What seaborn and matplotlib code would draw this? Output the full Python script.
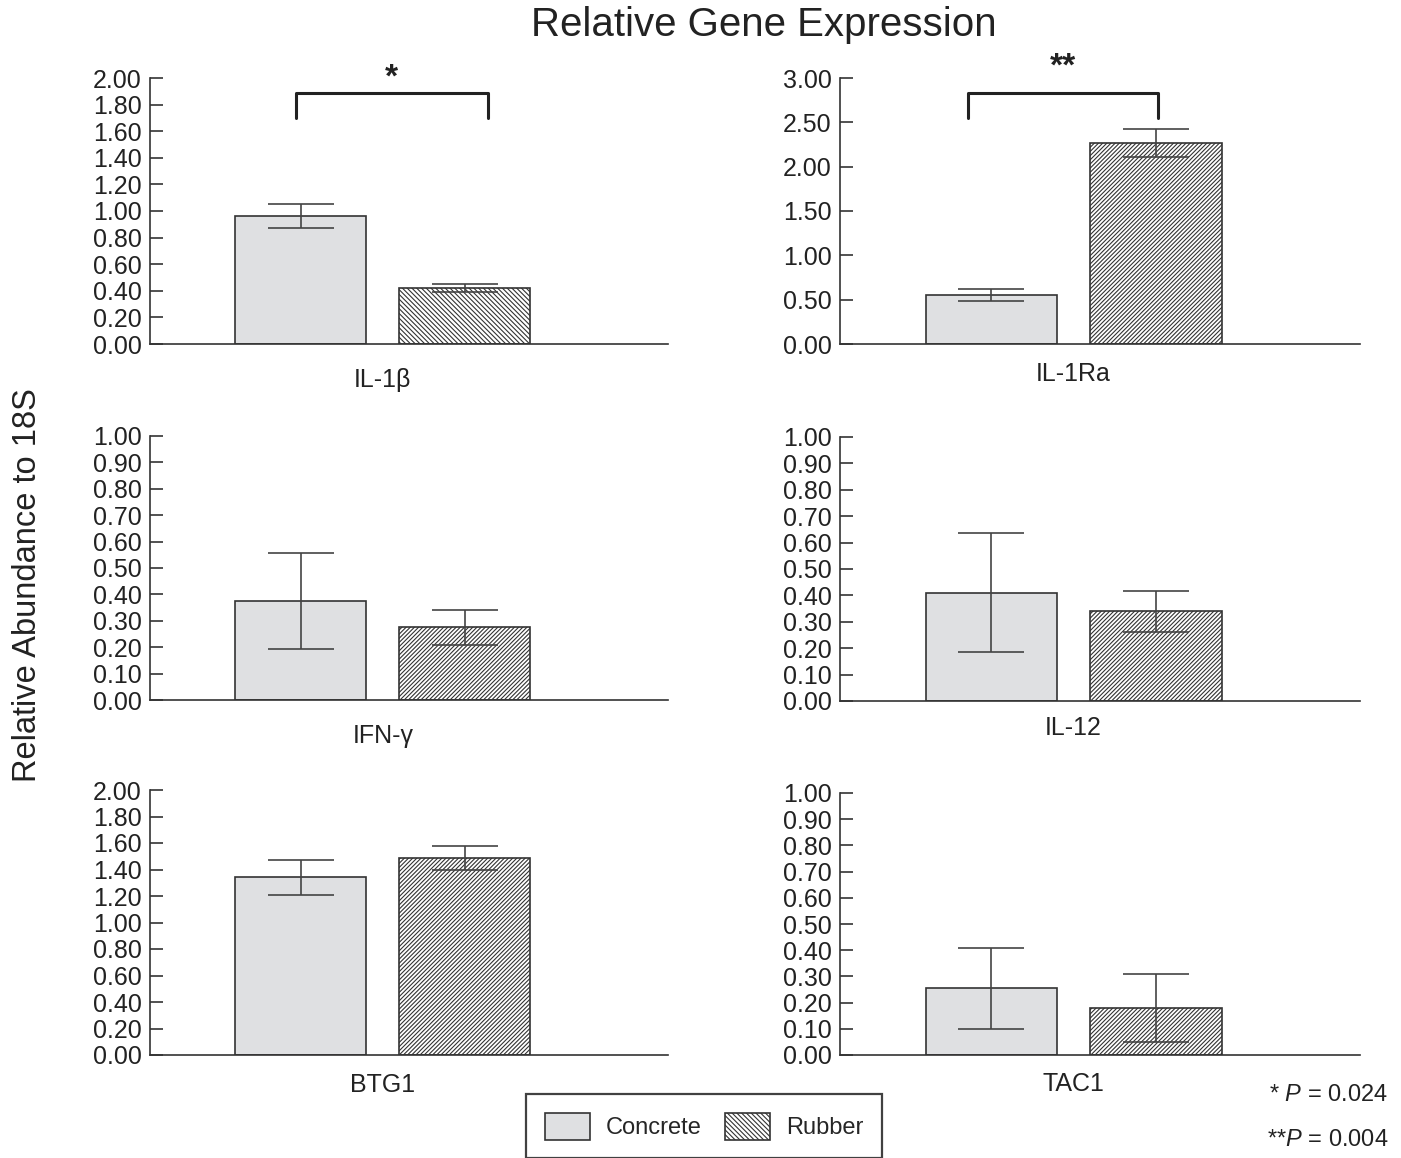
import seaborn as sns
import matplotlib.pyplot as plt
from matplotlib.patches import Patch
import pandas as pd
import numpy as np

sns.set_style("ticks")
plt.rcParams['font.family'] = ['Liberation Sans', 'DejaVu Sans']
plt.rcParams['mathtext.fontset'] = 'custom'
plt.rcParams['mathtext.it'] = 'Liberation Sans:italic'
plt.rcParams['mathtext.rm'] = 'Liberation Sans'
plt.rcParams['hatch.linewidth'] = 0.8

genes = ["IL-1β", "IL-1Ra", "IFN-γ", "IL-12", "BTG1", "TAC1"]
groups = ["Concrete", "Rubber"]
concrete_mean = [0.96, 0.55, 0.375, 0.41, 1.34, 0.255]
concrete_err = [0.09, 0.065, 0.18, 0.225, 0.135, 0.155]
rubber_mean = [0.42, 2.27, 0.275, 0.34, 1.49, 0.18]
rubber_err = [0.03, 0.16, 0.065, 0.078, 0.09, 0.13]
y_max = [2.0, 3.0, 1.0, 1.0, 2.0, 1.0]
y_step = [0.2, 0.5, 0.1, 0.1, 0.2, 0.1]
back = "\\" * 7
fwd = "/" * 8
rubber_hatch = [back, fwd, fwd, fwd, fwd, fwd]

# significance brackets: (stars, bracket height, leg bottom, star height)
sig = {0: ("*", 1.89, 1.70, 2.0), 1: ("**", 2.83, 2.55, 3.12)}

rows = []
for i, g in enumerate(genes):
    rows.append({"gene": g, "group": "Concrete", "value": concrete_mean[i], "err": concrete_err[i]})
    rows.append({"gene": g, "group": "Rubber", "value": rubber_mean[i], "err": rubber_err[i]})
df = pd.DataFrame(rows)

W, H = 1401, 1158
fig = plt.figure(figsize=(W / 100, H / 100), dpi=100)

# axes boxes in pixels: left, top, right, bottom
boxes = [(150, 78, 668, 344), (840, 78, 1360, 344),
         (150, 436, 668, 700), (840, 437, 1360, 701),
         (150, 790, 668, 1055), (840, 793, 1360, 1055)]
label_pad = [17, 13, 17, 11, 13, 12]

dark = "#333333"
fill = "#dfe0e2"

for i, g in enumerate(genes):
    l, t, r, b = boxes[i]
    ax = fig.add_axes([l / W, 1 - b / H, (r - l) / W, (b - t) / H])
    sub = df[df.gene == g]
    sns.barplot(data=sub, x="group", y="value", hue="group", order=groups,
                hue_order=groups, palette={"Concrete": fill, "Rubber": "white"},
                edgecolor=dark, linewidth=1.2, width=0.8, legend=False,
                errorbar=None, ax=ax)
    for p, h in zip(ax.patches, ["", rubber_hatch[i]]):
        p.set_hatch(h)
    ax.errorbar([0, 1], sub["value"], yerr=sub["err"], fmt="none",
                ecolor="#444444", elinewidth=1.2, capsize=24, capthick=1.2)
    ax.set_xlim(-0.92, 2.24)
    ax.set_ylim(0, y_max[i])
    ticks = np.arange(0, y_max[i] + 1e-9, y_step[i])
    ax.set_yticks(ticks)
    ax.set_yticklabels([f"{v:.2f}" for v in ticks])
    ax.set_xticks([0.5], [g])
    ax.tick_params(axis="x", length=0, pad=label_pad[i], labelsize=18, colors="#222222")
    ax.tick_params(axis="y", direction="in", length=9, width=1.1, pad=6,
                   labelsize=18, colors="#222222")
    ax.set_xlabel("")
    ax.set_ylabel("")
    sns.despine(ax=ax)
    for s in ["left", "bottom"]:
        ax.spines[s].set_color(dark)
        ax.spines[s].set_linewidth(1.2)
    ax.patch.set_alpha(0)

    if i in sig:
        stars, yb, yl, ys = sig[i]
        x0, x1 = (-0.03, 1.14) if i == 0 else (-0.14, 1.01)
        ax.plot([x0, x0, x1, x1], [yl, yb, yb, yl], color="#222222", lw=2.2,
                clip_on=False)
        ax.text((x0 + x1) / 2, ys, stars, ha="center", va="center",
                fontsize=24, fontweight="bold", color="#222222", clip_on=False)

fig.text(0.545, 1 - 25 / H, "Relative Gene Expression", ha="center", va="center",
         fontsize=29, color="#222222")
fig.text(28 / W, 1 - 585 / H, "Relative Abundance to 18S", ha="center", va="center",
         rotation=90, fontsize=23.5, color="#222222")

handles = [Patch(facecolor=fill, edgecolor=dark, linewidth=1.2, label="Concrete"),
           Patch(facecolor="white", edgecolor=dark, linewidth=1.2, hatch=back,
                 label="Rubber")]
leg = fig.legend(handles=handles, loc="upper left", bbox_to_anchor=(526 / W, 1 - 1094 / H),
                 ncol=2, fontsize=17, frameon=True, fancybox=False, handlelength=1.9,
                 handleheight=1.36, columnspacing=1.0, handletextpad=0.68,
                 borderpad=0.8, borderaxespad=0)
leg.get_frame().set_edgecolor("#111111")
leg.get_frame().set_linewidth(1.6)

fig.text(1388 / W, 1 - 1095 / H, "* $P$ = 0.024", ha="right", va="center",
         fontsize=17, color="#222222")
fig.text(1388 / W, 1 - 1140 / H, "**$P$ = 0.004", ha="right", va="center",
         fontsize=17, color="#222222")

fig.savefig("out.png", dpi=100)
